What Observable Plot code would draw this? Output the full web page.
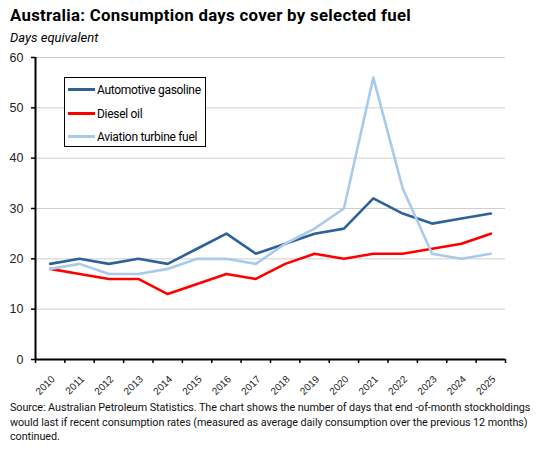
<!DOCTYPE html>
<html>
<head>
<meta charset="utf-8">
<script src="https://cdn.jsdelivr.net/npm/d3@7"></script>
<script src="https://cdn.jsdelivr.net/npm/@observablehq/plot@0.6"></script>
<style>
  body { margin: 0; background: #fff; }
  #wrap { position: relative; width: 548px; font-family: Roboto, "Liberation Sans", sans-serif; color: #000; }
  #title { font-size: 16.8px; font-weight: bold; line-height: 20px; height: 29px; padding: 5px 0 0 10px; box-sizing: border-box; letter-spacing: 0.3px; }
  #subtitle { font-size: 13px; font-style: italic; line-height: 18px; padding-left: 10px; }
  #caption { font-size: 10.8px; line-height: 14.5px; padding-left: 10px; color: #111; white-space: nowrap; letter-spacing: -0.08px; }
  #legend { position: absolute; left: 64px; top: 77px; width: 142px; height: 70px; box-sizing: border-box;
            border: 1px solid #000; background: #fff; font-size: 12px; letter-spacing: -0.3px; }
  #legend .row { position: absolute; left: 3px; height: 16px; line-height: 16px; white-space: nowrap; }
  #legend .sw { display: inline-block; width: 27px; height: 3px; vertical-align: middle; margin-right: 2px; position: relative; top: -1px; }
</style>
</head>
<body>
<div id="wrap">
  <div id="title">Australia: Consumption days cover by selected fuel</div>
  <div id="subtitle">Days equivalent</div>
  <div id="chart"></div>
  <div id="caption">Source: Australian Petroleum Statistics. The chart shows the number of days that end -of-month stockholdings<br>would last if recent consumption rates (measured as average daily consumption over the previous 12 months)<br>continued.</div>
  <div id="legend"></div>
</div>
<script>
// Datos
const years = [2010, 2011, 2012, 2013, 2014, 2015, 2016, 2017, 2018, 2019, 2020, 2021, 2022, 2023, 2024, 2025]
const gasoline = [19, 20, 19, 20, 19, 22, 25, 21, 23, 25, 26, 32, 29, 27, 28, 29]
const diesel = [18, 17, 16, 16, 13, 15, 17, 16, 19, 21, 20, 21, 21, 22, 23, 25]
const aviation = [18, 19, 17, 17, 18, 20, 20, 19, 23, 26, 30, 56, 34, 21, 20, 21]
const seriesNames = ["Automotive gasoline", "Diesel oil", "Aviation turbine fuel"]
const seriesColors = ["#2e6199", "#ff0000", "#a8cbec"]
const yTicks = [0, 10, 20, 30, 40, 50, 60]

// Tabla larga para Plot
const data = [gasoline, diesel, aviation].flatMap((vals, i) =>
  vals.map((v, j) => ({year: years[j], value: v, series: seriesNames[i]})))

// Marcas del eje x entre categorías
const bounds = [...years.map(y => y - 0.5), years[years.length - 1] + 0.5]

let chart = Plot.plot({
  width: 548,
  height: 354,
  marginTop: 10,
  marginBottom: 42,
  marginLeft: 35,
  marginRight: 43,
  style: {fontFamily: "'Liberation Sans', Arial, sans-serif", fontSize: "11px", color: "#222", background: "#fff"},
  x: {domain: [bounds[0], bounds[bounds.length - 1]]},
  y: {domain: [0, 60]},
  color: {domain: seriesNames, range: seriesColors},
  marks: [
    Plot.gridY(yTicks, {stroke: "#cfcfcf", strokeOpacity: 1}),
    Plot.axisY(yTicks, {tickSize: 4, tickPadding: 8, stroke: "#000", strokeWidth: 1.5, fontSize: 12.5, label: null, tickFormat: d => String(d)}),
    Plot.axisX(bounds, {tickSize: 4, stroke: "#000", strokeWidth: 1.5, tickFormat: () => "", label: null}),
    // etiquetas de años giradas 45°
    Plot.text(years, {x: d => d, y: 0, text: d => String(d), rotate: -45, textAnchor: "end", dx: 3, dy: 18, fontSize: 10, fill: "#222"}),
    Plot.lineY(data, {x: "year", y: "value", stroke: "series", strokeWidth: 2.6, z: "series"}),
    Plot.ruleY([0], {stroke: "#000", strokeWidth: 2}),
    Plot.ruleX([bounds[0]], {stroke: "#000", strokeWidth: 2})
  ]
})
d3.select('#chart').append(() => chart)

// Leyenda
const legend = d3.select('#legend')
seriesNames.forEach((name, i) => {
  const row = legend.append('div').attr('class', 'row').style('top', `${4 + i * 23.5}px`)
  row.append('span').attr('class', 'sw').style('background', seriesColors[i])
  row.append('span').text(name)
})
</script>
</body>
</html>
